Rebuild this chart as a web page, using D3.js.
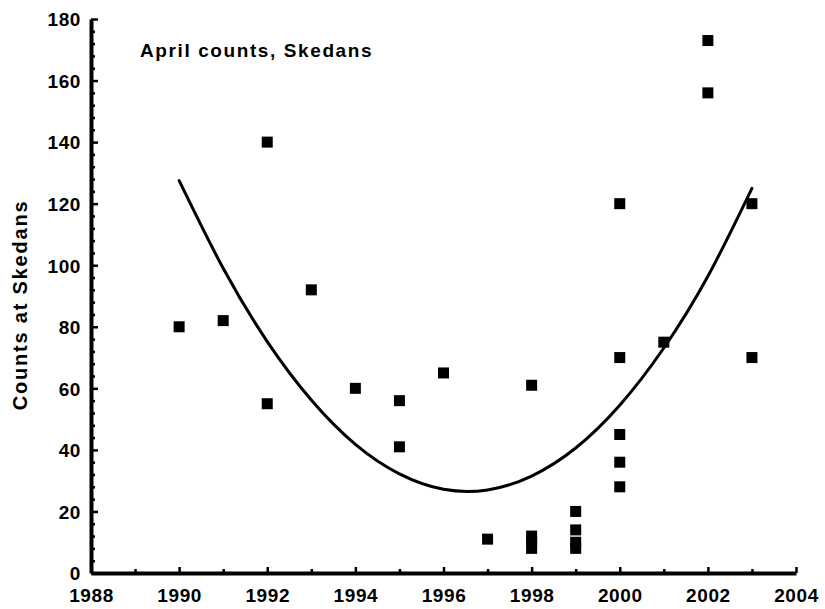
<!DOCTYPE html>
<html>
<head>
<meta charset="utf-8">
<script src="https://cdn.jsdelivr.net/npm/d3@7"></script>
<style>
  body { margin: 0; background: #fff; }
  svg text { font-family: "Liberation Sans", Arial, sans-serif; font-weight: bold; fill: #000; }
  .axis path.domain { stroke: #000; stroke-width: 4; }
  .axis line { stroke: #000; stroke-width: 2.5; }
</style>
</head>
<body>
<svg></svg>
<script>
const SIZE = { width: 825, height: 609 }
const PLOT = { left: 91, right: 796, top: 19, bottom: 573 }

// survey counts
const pointYears  = [1990, 1991, 1992, 1992, 1993, 1994, 1995, 1995, 1996, 1997, 1998, 1998, 1998, 1998, 1999, 1999, 1999, 1999, 2000, 2000, 2000, 2000, 2000, 2001, 2002, 2002, 2003, 2003]
const pointCounts = [80, 82, 140, 55, 92, 60, 56, 41, 65, 11, 61, 12, 10, 8, 20, 14, 10, 8, 120, 70, 45, 36, 28, 75, 173, 156, 120, 70]

// fitted trend, read at each year
const fitYears  = [1990, 1991, 1992, 1993, 1994, 1995, 1996, 1997, 1998, 1999, 2000, 2001, 2002, 2003]
const fitCounts = [127.5, 99, 75.2, 56.2, 41.8, 32.2, 27.2, 27.0, 31.5, 40.6, 54.5, 73.1, 96.4, 125]

const xMajorTicks = [1988, 1990, 1992, 1994, 1996, 1998, 2000, 2002, 2004]
const xMinorTicks = [1989, 1991, 1993, 1995, 1997, 1999, 2001, 2003]
const yMajorTicks = [0, 20, 40, 60, 80, 100, 120, 140, 160, 180]
const yMinorTicks = d3.range(0, 181, 4).filter(v => v % 20 !== 0)

const svg = d3.select('svg').attr('width', SIZE.width).attr('height', SIZE.height)

const xScale = d3.scaleLinear().domain([1988, 2004]).range([PLOT.left, PLOT.right])
const yScale = d3.scaleLinear().domain([0, 180]).range([PLOT.bottom, PLOT.top])

// fit curve
const line = d3.line()
  .x((d, i) => xScale(fitYears[i]))
  .y((d, i) => yScale(fitCounts[i]))
  .curve(d3.curveNatural)

svg.append('path')
  .datum(fitYears)
  .attr('d', line)
  .attr('fill', 'none')
  .attr('stroke', '#000')
  .attr('stroke-width', 3)
  .attr('stroke-linecap', 'round')

// points
const sq = 11
svg.append('g').selectAll('rect')
  .data(pointYears)
  .enter()
  .append('rect')
  .attr('x', (d, i) => xScale(d) - sq / 2)
  .attr('y', (d, i) => yScale(pointCounts[i]) - sq / 2)
  .attr('width', sq)
  .attr('height', sq)
  .attr('fill', '#000')

// x axis
svg.append('g')
  .attr('class', 'axis')
  .attr('transform', `translate(0, ${PLOT.bottom})`)
  .call(d3.axisBottom(xScale).tickValues(xMinorTicks).tickSize(-4).tickFormat(''))
  .call(g => g.select('.domain').remove())

svg.append('g')
  .attr('class', 'axis')
  .attr('transform', `translate(0, ${PLOT.bottom})`)
  .call(d3.axisBottom(xScale).tickValues(xMajorTicks).tickSizeInner(-6).tickSizeOuter(0).tickPadding(10).tickFormat(d3.format('d')))
  .call(g => g.selectAll('text').attr('font-size', 19).attr('letter-spacing', 0.6).attr('dy', '1em'))

// y axis
svg.append('g')
  .attr('class', 'axis')
  .attr('transform', `translate(${PLOT.left}, 0)`)
  .call(d3.axisLeft(yScale).tickValues(yMinorTicks).tickSize(-4).tickFormat(''))
  .call(g => g.select('.domain').remove())

svg.append('g')
  .attr('class', 'axis')
  .attr('transform', `translate(${PLOT.left}, 0)`)
  .call(d3.axisLeft(yScale).tickValues(yMajorTicks).tickSizeInner(-7).tickSizeOuter(0).tickPadding(10))
  .call(g => g.selectAll('text').attr('font-size', 19).attr('letter-spacing', 0.6).attr('dy', '0.36em'))

// labels
svg.append('text')
  .text('April counts, Skedans')
  .attr('x', 140)
  .attr('y', 57)
  .attr('font-size', 19)
  .attr('letter-spacing', 1.6)

svg.append('text')
  .text('Counts at Skedans')
  .attr('transform', 'rotate(-90)')
  .attr('x', -305)
  .attr('y', 27)
  .attr('text-anchor', 'middle')
  .attr('font-size', 20)
  .attr('letter-spacing', 1.8)
</script>
</body>
</html>
